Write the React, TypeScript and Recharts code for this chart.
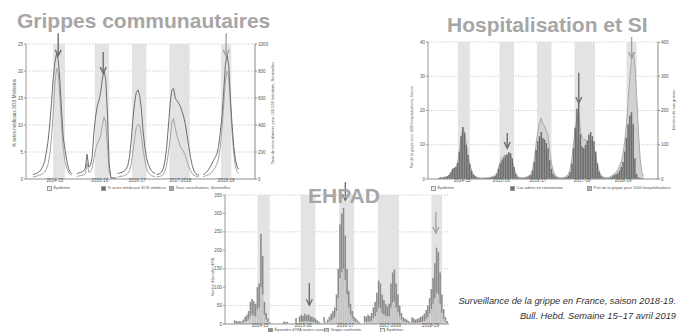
import React from 'react';
import {
  ComposedChart,
  Line,
  Bar,
  Area,
  XAxis,
  YAxis,
  CartesianGrid,
  ReferenceArea,
  ReferenceLine,
} from 'recharts';

// semaines comptées depuis juillet 2014, un point toutes les 2 semaines
const epidemicStart = [32, 81, 125, 169, 230];
const epidemicEnd = [46, 98, 142, 193, 242];

// Grippes communautaires
const commTicks = [34, 87, 131, 182, 236];
const commLabels = ['2014-15', '2015-16', '2016-17', '2017-2018', '2018-19'];
const commStart = [8, 60, 108, 154, 209];
const sosPct = [
  [0.8, 0.9, 1.0, 1.2, 1.4, 1.8, 2.4, 3.2, 5.0, 7.0, 10, 14, 18.5, 21.5, 23.2, 22, 18, 12.5, 7.5, 5.5, 3.5, 2.0, 1.3, 1.0],
  [1.0, 1.1, 1.2, 1.3, 1.5, 2.0, 4.6, 2.2, 2.5, 4.0, 8.5, 11.5, 13.5, 14.5, 16, 18.5, 20, 18.5, 12, 3, 0.3, 0.2, 0.2, 0.2],
  [1.0, 1.1, 1.2, 1.3, 1.5, 1.8, 2.5, 4.0, 7.0, 11, 14, 16, 16.5, 15.5, 13, 9, 6, 4, 2.8, 2.0, 1.5, 1.2, 1.1],
  [0.8, 0.9, 1.0, 1.3, 2.0, 3.5, 6, 10, 14, 16.5, 16.8, 15, 14.5, 14, 13.5, 12.5, 11.5, 10, 8, 6, 4, 2.5, 1.5, 1.0, 0.8, 0.7],
  [0.8, 1.0, 1.3, 1.7, 2.2, 2.8, 3.4, 4.0, 4.6, 6, 8.5, 11.5, 16, 21, 23.2, 21, 15, 10, 6, 3.5, 2.2, 1.8],
];
const sentinellesRate = [
  [15, 18, 20, 24, 28, 32, 40, 52, 75, 110, 180, 300, 480, 700, 820, 790, 600, 380, 220, 130, 80, 50, 35, 28],
  [20, 22, 24, 26, 30, 38, 120, 50, 55, 80, 150, 220, 260, 290, 320, 400, 460, 420, 250, 60, 10, 5, 5, 5],
  [15, 18, 20, 22, 25, 30, 40, 60, 110, 200, 300, 380, 405, 400, 320, 220, 140, 80, 50, 35, 25, 20, 18],
  [15, 18, 20, 25, 35, 60, 110, 200, 300, 420, 450, 380, 320, 280, 240, 220, 200, 170, 130, 90, 60, 40, 28, 22, 18, 15],
  [18, 22, 25, 30, 38, 50, 65, 85, 110, 150, 230, 360, 540, 720, 800, 760, 560, 340, 180, 90, 55, 40],
];
const commArrowWeek = [38, 91, 236];
const commArrowFrom = [27, 23.5, 27];
const commArrowTo = [22.8, 19.6, 22.8];
const commArrowLight = [false, false, true];

// Hospitalisation et SI
const hospTicks = [37, 83, 126, 178, 226];
const hospLabels = ['2014-15', '2015-16', '2016-17', '2017-18', '2018-19'];
const hospStart = [10, 62, 108, 154, 210];
const icuCases = [
  [3, 4, 3, 5, 6, 8, 12, 20, 30, 32, 35, 48, 80, 125, 152, 135, 100, 70, 45, 25, 14, 8, 5, 3, 2],
  [2, 2, 3, 3, 4, 5, 6, 9, 15, 30, 45, 55, 62, 68, 70, 78, 75, 60, 35, 15, 6, 3, 2],
  [2, 3, 4, 5, 8, 12, 25, 50, 85, 110, 125, 137, 120, 115, 105, 90, 55, 30, 15, 8, 5, 3, 2],
  [2, 3, 4, 6, 10, 20, 45, 90, 150, 205, 225, 130, 95, 90, 100, 112, 130, 137, 125, 110, 80, 45, 22, 10, 5, 3, 2],
  [3, 5, 8, 12, 14, 18, 25, 35, 50, 80, 120, 160, 185, 195, 160, 60, 15, 5, 3, 2, 1],
];
const fluShare = [
  [0.3, 0.4, 0.4, 0.5, 0.6, 0.8, 1.2, 2.0, 2.8, 3.2, 3.6, 5.0, 8.5, 12.5, 14.8, 13.5, 10, 7, 4.5, 2.6, 1.5, 0.9, 0.6, 0.4, 0.3],
  [0.3, 0.3, 0.4, 0.4, 0.5, 0.6, 0.8, 1.1, 1.8, 3.5, 5.0, 6.2, 6.8, 7.0, 7.2, 7.5, 7.0, 5.5, 3.2, 1.5, 0.8, 0.5, 0.4],
  [0.3, 0.4, 0.5, 0.7, 1.0, 1.6, 3.0, 6.0, 10.5, 14, 16.5, 17.8, 16.0, 15.5, 14, 12.5, 8, 4.5, 2.2, 1.2, 0.8, 0.5, 0.4],
  [0.3, 0.4, 0.6, 0.9, 1.5, 3, 6, 10.5, 15, 18.5, 19, 14, 12, 11.5, 11.5, 11, 11, 11.2, 10.5, 9, 6.5, 4, 2.2, 1.2, 0.7, 0.5, 0.4],
  [0.5, 0.8, 1.2, 1.6, 2.0, 2.8, 3.8, 5.2, 7.5, 11, 16, 23, 30, 35, 37, 33, 24, 14, 6, 2, 0.8],
];
const hospArrowWeek = [90, 174, 236];
const hospArrowFrom = [13.4, 31, 41.5];
const hospArrowTo = [9, 22.2, 35.3];
const hospArrowLight = [false, false, true];

// EHPAD
const ehpadTicks = [35, 84, 132, 183, 229];
const ehpadLabels = ['2014-15', '2015-16', '2016-17', '2017-2018', '2018-19'];
const ehpadStart = [6, 60, 108, 154, 208];
const iraEpisodes = [
  [10, 8, 7, 8, 6, 12, 20, 25, 35, 60, 68, 62, 55, 100, 110, 245, 185, 60, 30, 15, 5],
  [0, 7, 5, 6, 0, 0, 0, 0, 16, 0, 20, 25, 22, 28, 24, 26, 22, 20, 18, 15, 10, 6, 3],
  [18, 5, 12, 20, 28, 35, 45, 80, 150, 270, 300, 315, 240, 150, 90, 55, 35, 20, 15, 10, 5],
  [22, 20, 25, 22, 30, 45, 60, 85, 118, 110, 80, 65, 55, 48, 55, 110, 140, 148, 110, 80, 50, 30, 18, 15, 12, 8, 4],
  [18, 15, 12, 14, 16, 20, 22, 28, 38, 50, 70, 95, 125, 165, 207, 195, 140, 80, 40, 18, 8],
];
const fluConfirmed = [
  [2, 2, 2, 2, 2, 4, 6, 8, 12, 20, 25, 22, 20, 40, 45, 100, 80, 25, 12, 6, 2],
  [0, 2, 1, 2, 0, 0, 0, 0, 4, 0, 5, 7, 6, 8, 7, 8, 6, 6, 5, 4, 3, 2, 1],
  [5, 2, 4, 7, 10, 14, 18, 35, 70, 125, 140, 150, 120, 80, 45, 25, 15, 8, 6, 4, 2],
  [5, 5, 6, 6, 8, 15, 22, 32, 45, 42, 30, 25, 22, 20, 22, 45, 58, 62, 45, 32, 20, 12, 7, 5, 4, 3, 1],
  [4, 3, 3, 3, 4, 5, 6, 8, 12, 18, 28, 40, 55, 70, 85, 80, 55, 30, 14, 6, 3],
];
const ehpadArrowWeek = [91, 132, 235];
const ehpadArrowFrom = [111, 385, 303];
const ehpadArrowTo = [51, 336, 247];
const ehpadArrowLight = [false, false, true];

// builds one row per point; an empty row between seasons breaks the lines
function seasonRows(starts: number[], cols: Record<string, number[][]>, breakLines: boolean) {
  const rows: any[] = [];
  const keys = Object.keys(cols);
  starts.forEach((start, s) => {
    const n = cols[keys[0]][s].length;
    for (let i = 0; i < n; i++) {
      const row: any = { week: start + 2 * i };
      keys.forEach((k) => (row[k] = cols[k][s][i]));
      rows.push(row);
    }
    if (breakLines && s < starts.length - 1) rows.push({ week: start + 2 * n });
  });
  return rows;
}

const commRows = seasonRows(commStart, { sos: sosPct, sent: sentinellesRate }, true);
const hospRows = seasonRows(hospStart, { cases: icuCases, share: fluShare }, false);
const ehpadRows = seasonRows(ehpadStart, { total: iraEpisodes, flu: fluConfirmed }, false).map((r) => ({
  ...r,
  rest: r.total - r.flu,
}));

const font = '"Liberation Sans", Arial, Helvetica, sans-serif';
const tick = { fontSize: 4.6, fill: '#555', fontFamily: font };
const bandFill = '#e3e3e3';
const gridStroke = '#cfcfcf';
const dark = '#6e6e6e';
const light = '#a4a4a4';

const arrowShape = (color: string) => (p: any) => {
  const { x1, y1, x2, y2 } = p;
  return (
    <g>
      <line x1={x1} y1={y1} x2={x2} y2={y2} stroke={color} strokeWidth={1.4} />
      <polyline
        points={`${x2 - 3},${y2 - 6} ${x2},${y2} ${x2 + 3},${y2 - 6}`}
        fill="none"
        stroke={color}
        strokeWidth={1.4}
      />
    </g>
  );
};

function Title({ x, y, text }: { x: number; y: number; text: string }) {
  return (
    <div
      style={{
        position: 'absolute',
        left: x,
        top: y,
        fontFamily: font,
        fontWeight: 'bold',
        fontSize: 21,
        lineHeight: '21px',
        color: '#a6a6a6',
        whiteSpace: 'nowrap',
      }}
    >
      {text}
    </div>
  );
}

function AxisTitle({ cx, cy, text, size }: { cx: number; cy: number; text: string; size: number }) {
  return (
    <div
      style={{
        position: 'absolute',
        left: cx,
        top: cy,
        transform: 'translate(-50%, -50%) rotate(-90deg)',
        fontFamily: font,
        fontSize: size,
        color: '#555',
        whiteSpace: 'nowrap',
      }}
    >
      {text}
    </div>
  );
}

function LegendItem({ x, y, swatch, label }: { x: number; y: number; swatch: string; label: string }) {
  return (
    <div
      style={{
        position: 'absolute',
        left: x,
        top: y,
        display: 'flex',
        alignItems: 'center',
        gap: 1.5,
        fontFamily: font,
        fontSize: 4,
        lineHeight: '4.5px',
        color: '#555',
        whiteSpace: 'nowrap',
      }}
    >
      <span style={{ width: 3, height: 3, background: swatch, border: '0.5px solid #999' }} />
      {label}
    </div>
  );
}

export default function App() {
  return (
    <div
      style={{
        position: 'absolute',
        left: 0,
        top: 0,
        width: 678,
        height: 332,
        overflow: 'hidden',
        background: '#fff',
      }}
    >
      {/* Grippes communautaires */}
      <div style={{ position: 'absolute', left: 0, top: 0 }}>
        <ComposedChart width={280} height={195} data={commRows} margin={{ top: 44, right: 0, bottom: 8, left: 0 }}>
          <CartesianGrid yAxisId="left" vertical={false} stroke={gridStroke} strokeDasharray="1.5 1.5" />
          {epidemicStart.map((s, i) => (
            <ReferenceArea key={i} yAxisId="left" x1={s} x2={epidemicEnd[i]} fill={bandFill} fillOpacity={1} stroke="none" />
          ))}
          <XAxis
            type="number"
            dataKey="week"
            domain={[0, 270]}
            ticks={commTicks}
            interval={0}
            tickFormatter={(v) => commLabels[commTicks.indexOf(v)]}
            tick={tick}
            tickLine={false}
            tickSize={0}
            tickMargin={0}
            axisLine={{ stroke: '#999' }}
            height={8}
          />
          <YAxis
            yAxisId="left"
            width={26}
            domain={[0, 25]}
            ticks={[0, 5, 10, 15, 20, 25]}
            tick={tick}
            tickSize={2}
            tickMargin={1}
            axisLine={{ stroke: '#999' }}
            tickLine={{ stroke: '#999' }}
          />
          <YAxis
            yAxisId="right"
            orientation="right"
            width={25}
            domain={[0, 1000]}
            ticks={[0, 200, 400, 600, 800, 1000]}
            tick={tick}
            tickSize={2}
            tickMargin={1}
            axisLine={{ stroke: '#888' }}
            tickLine={{ stroke: '#888' }}
          />
          <Line yAxisId="right" dataKey="sent" stroke={light} strokeWidth={1} dot={false} isAnimationActive={false} />
          <Line yAxisId="left" dataKey="sos" stroke={dark} strokeWidth={1} dot={false} isAnimationActive={false} />
          {commArrowWeek.map((w, i) => (
            <ReferenceLine
              key={i}
              yAxisId="left"
              ifOverflow="visible"
              segment={[
                { x: w, y: commArrowFrom[i] },
                { x: w, y: commArrowTo[i] },
              ]}
              shape={arrowShape(commArrowLight[i] ? light : dark)}
            />
          ))}
        </ComposedChart>
      </div>

      {/* Hospitalisation et SI */}
      <div style={{ position: 'absolute', left: 380, top: 0 }}>
        <ComposedChart width={298} height={195} data={hospRows} margin={{ top: 42, right: 0, bottom: 8, left: 0 }}>
          <CartesianGrid yAxisId="left" vertical={false} stroke={gridStroke} strokeDasharray="1.5 1.5" />
          {epidemicStart.map((s, i) => (
            <ReferenceArea key={i} yAxisId="left" x1={s} x2={epidemicEnd[i]} fill={bandFill} fillOpacity={1} stroke="none" />
          ))}
          <XAxis
            type="number"
            dataKey="week"
            domain={[-3, 267]}
            ticks={hospTicks}
            interval={0}
            tickFormatter={(v) => hospLabels[hospTicks.indexOf(v)]}
            tick={tick}
            tickLine={false}
            tickSize={0}
            tickMargin={0}
            axisLine={{ stroke: '#999' }}
            height={8}
          />
          <YAxis
            yAxisId="left"
            width={48}
            domain={[0, 40]}
            ticks={[0, 10, 20, 30, 40]}
            tick={tick}
            tickSize={2}
            tickMargin={1}
            axisLine={{ stroke: '#999' }}
            tickLine={{ stroke: '#999' }}
          />
          <YAxis
            yAxisId="right"
            orientation="right"
            width={20}
            domain={[0, 400]}
            ticks={[0, 100, 200, 300, 400]}
            tick={tick}
            tickSize={2}
            tickMargin={1}
            axisLine={{ stroke: '#888' }}
            tickLine={{ stroke: '#888' }}
          />
          <Area
            yAxisId="left"
            dataKey="share"
            stroke="#aaaaaa"
            strokeWidth={1}
            fill="#d2d2d2"
            fillOpacity={1}
            isAnimationActive={false}
          />
          <Bar yAxisId="right" dataKey="cases" fill="#6e6e6e" barSize={2} isAnimationActive={false} />
          {hospArrowWeek.map((w, i) => (
            <ReferenceLine
              key={i}
              yAxisId="left"
              ifOverflow="visible"
              segment={[
                { x: w, y: hospArrowFrom[i] },
                { x: w, y: hospArrowTo[i] },
              ]}
              shape={arrowShape(hospArrowLight[i] ? light : dark)}
            />
          ))}
        </ComposedChart>
      </div>

      {/* EHPAD */}
      <div style={{ position: 'absolute', left: 190, top: 180 }}>
        <ComposedChart width={265} height={152} data={ehpadRows} margin={{ top: 15, right: 6, bottom: 0, left: 0 }}>
          <CartesianGrid vertical={false} stroke={gridStroke} strokeDasharray="1.5 1.5" />
          {epidemicStart.map((s, i) => (
            <ReferenceArea key={i} x1={s} x2={epidemicEnd[i]} fill={bandFill} fillOpacity={1} stroke="none" />
          ))}
          <XAxis
            type="number"
            dataKey="week"
            domain={[-5, 250]}
            ticks={ehpadTicks}
            interval={0}
            tickFormatter={(v) => ehpadLabels[ehpadTicks.indexOf(v)]}
            tick={tick}
            tickLine={false}
            tickSize={0}
            tickMargin={0}
            axisLine={{ stroke: '#999' }}
            height={8}
          />
          <YAxis
            width={35}
            domain={[0, 350]}
            ticks={[0, 50, 100, 150, 200, 250, 300, 350]}
            tick={tick}
            tickSize={2}
            tickMargin={1}
            axisLine={{ stroke: '#999' }}
            tickLine={{ stroke: '#999' }}
          />
          <Bar dataKey="flu" stackId="ira" fill="#c4c4c4" barSize={2} isAnimationActive={false} />
          <Bar dataKey="rest" stackId="ira" fill="#8c8c8c" barSize={2} isAnimationActive={false} />
          {ehpadArrowWeek.map((w, i) => (
            <ReferenceLine
              key={i}
              ifOverflow="visible"
              segment={[
                { x: w, y: ehpadArrowFrom[i] },
                { x: w, y: ehpadArrowTo[i] },
              ]}
              shape={arrowShape(ehpadArrowLight[i] ? light : dark)}
            />
          ))}
        </ComposedChart>
      </div>

      <Title x={17} y={10} text="Grippes communautaires" />
      <Title x={447} y={14} text="Hospitalisation et SI" />
      <Title x={308} y={185} text="EHPAD" />

      <AxisTitle cx={14} cy={113} size={4.5} text="% actes médicaux SOS Médecins" />
      <AxisTitle cx={272} cy={113} size={4} text="Taux de consultations pour 100 000 habitants, Sentinelles" />
      <AxisTitle cx={412} cy={127} size={3.6} text="Part de la grippe pour 1000 hospitalisations, Oscour" />
      <AxisTitle cx={673} cy={110} size={4} text="Nombre de cas graves" />
      <AxisTitle cx={213} cy={277} size={3.4} text="Nombre d'épisodes d'IRA" />

      <LegendItem x={47} y={185.5} swatch="#eeeeee" label="Épidémie" />
      <LegendItem x={101} y={185.5} swatch={dark} label="% actes médicaux SOS médecin" />
      <LegendItem x={169} y={185.5} swatch={light} label="Taux consultations, Sentinelles" />

      <LegendItem x={431} y={185.5} swatch="#eeeeee" label="Épidémie" />
      <LegendItem x={510} y={185.5} swatch="#6e6e6e" label="Cas admis en réanimation" />
      <LegendItem x={587} y={185.5} swatch="#b0b0b0" label="Part de la grippe pour 1000 hospitalisations" />

      <LegendItem x={268} y={327.5} swatch="#8c8c8c" label="Épisodes d'IRA toutes causes" />
      <LegendItem x={324} y={327.5} swatch="#c4c4c4" label="Grippe confirmée" />
      <LegendItem x={380} y={327.5} swatch="#eeeeee" label="Épidémie" />

      <div
        style={{
          position: 'absolute',
          right: 2,
          top: 294,
          textAlign: 'right',
          fontFamily: font,
          fontStyle: 'italic',
          fontSize: 9.3,
          lineHeight: '15px',
          color: '#333',
          whiteSpace: 'nowrap',
        }}
      >
        Surveillance de la grippe en France, saison 2018-19.
        <br />
        Bull. Hebd. Semaine 15–17 avril 2019
      </div>
    </div>
  );
}
